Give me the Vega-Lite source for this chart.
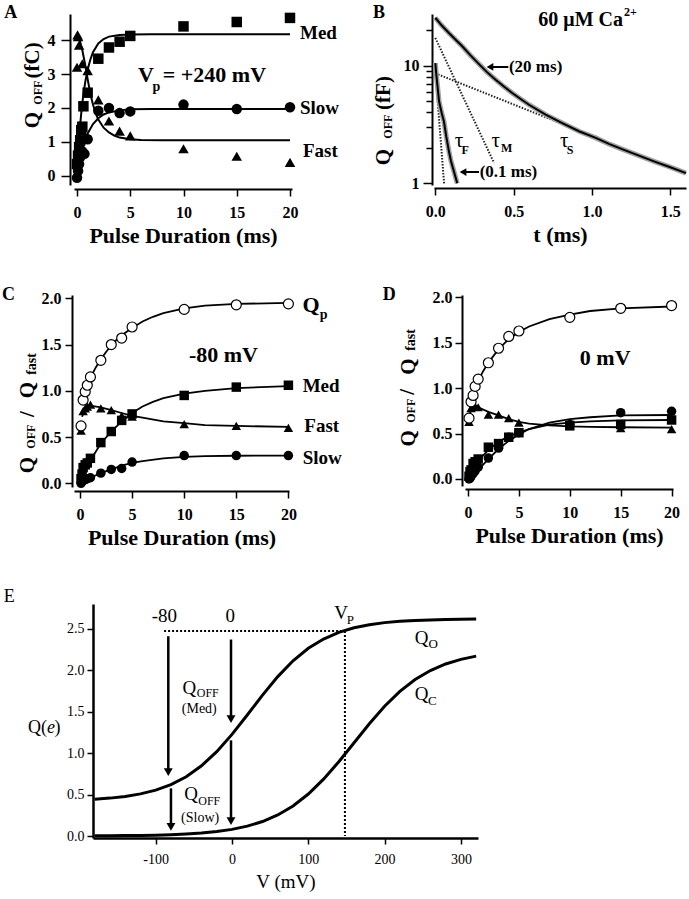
{
"$schema":"https://vega.github.io/schema/vega-lite/v6.json",
"padding":0,
"config":{"view":{"stroke":null},"font":"Liberation Serif",
 "axis":{"grid":false,"domainColor":"black","tickColor":"black","labelColor":"black","titleColor":"black","labelFont":"Liberation Serif","titleFont":"Liberation Serif","labelFontWeight":"bold","titleFontWeight":"bold","labelFontSize":16,"titleFontSize":22,"domainWidth":2,"tickWidth":1.5,"labelFlush":false,"labelOverlap":false,"labelBound":false},
 "text":{"font":"Liberation Serif","color":"black"}},
"spacing":0,"bounds":"full",
"vconcat":[
 {"spacing":142,"bounds":"flush","hconcat":[
  {"width":218,"height":171,
   "encoding":{
    "x":{"field":"x","type":"quantitative","scale":{"domain":[-0.282,20.188],"nice":false,"zero":false},"axis":{"values":[0,5,10,15,20],"title":"Pulse Duration (ms)","offset":4,"tickSize":7,"labelPadding":8,"titlePadding":5}},
    "y":{"field":"y","type":"quantitative","scale":{"domain":[-0.265,4.765],"nice":false,"zero":false},"axis":{"values":[0,1,2,3,4],"title":null,"offset":4,"tickSize":9,"labelPadding":6}}},
   "layer":[
    {"data":{"values":[{"x":-7.136,"y":5.176,"y2":-2.353}]},"mark":{"type":"rule","opacity":0,"strokeWidth":0},"encoding":{"y2":{"field":"y2"}}},
    {"data":{"values":[
     {"s":"Med","x":0,"y":0.22},{"s":"Med","x":0.1,"y":0.71},{"s":"Med","x":0.2,"y":1.14},{"s":"Med","x":0.3,"y":1.52},{"s":"Med","x":0.4,"y":1.85},{"s":"Med","x":0.5,"y":2.14},{"s":"Med","x":0.6,"y":2.4},{"s":"Med","x":0.8,"y":2.81},{"s":"Med","x":1.0,"y":3.13},{"s":"Med","x":1.25,"y":3.42},{"s":"Med","x":1.5,"y":3.64},{"s":"Med","x":2,"y":3.9},{"s":"Med","x":2.5,"y":4.03},{"s":"Med","x":3,"y":4.1},{"s":"Med","x":4,"y":4.15},{"s":"Med","x":5,"y":4.165},{"s":"Med","x":7,"y":4.17},{"s":"Med","x":20,"y":4.17},
     {"s":"Fast","x":0,"y":4.12},{"s":"Fast","x":0.25,"y":4.0},{"s":"Fast","x":0.5,"y":3.7},{"s":"Fast","x":0.75,"y":3.3},{"s":"Fast","x":1.0,"y":2.85},{"s":"Fast","x":1.25,"y":2.42},{"s":"Fast","x":1.5,"y":2.1},{"s":"Fast","x":1.75,"y":1.85},{"s":"Fast","x":2.0,"y":1.66},{"s":"Fast","x":2.5,"y":1.42},{"s":"Fast","x":3,"y":1.28},{"s":"Fast","x":3.5,"y":1.19},{"s":"Fast","x":4,"y":1.13},{"s":"Fast","x":5,"y":1.08},{"s":"Fast","x":6,"y":1.06},{"s":"Fast","x":8,"y":1.05},{"s":"Fast","x":20,"y":1.05},
     {"s":"Slow","x":0,"y":0},{"s":"Slow","x":0.25,"y":0.44},{"s":"Slow","x":0.5,"y":0.78},{"s":"Slow","x":0.75,"y":1.04},{"s":"Slow","x":1,"y":1.25},{"s":"Slow","x":1.5,"y":1.53},{"s":"Slow","x":2,"y":1.7},{"s":"Slow","x":2.5,"y":1.81},{"s":"Slow","x":3,"y":1.87},{"s":"Slow","x":4,"y":1.93},{"s":"Slow","x":5,"y":1.96},{"s":"Slow","x":7,"y":1.97},{"s":"Slow","x":20,"y":1.97}]},
     "mark":{"type":"line","strokeWidth":2,"color":"black"},"encoding":{"detail":{"field":"s"}}},
    {"data":{"values":[
     {"s":"Med","x":0,"y":0.35},{"s":"Med","x":0.1,"y":0.6},{"s":"Med","x":0.2,"y":0.85},{"s":"Med","x":0.3,"y":1.05},{"s":"Med","x":0.4,"y":1.35},{"s":"Med","x":0.5,"y":1.45},{"s":"Med","x":0.6,"y":2.05},{"s":"Med","x":1,"y":2.45},{"s":"Med","x":2,"y":3.45},{"s":"Med","x":3,"y":3.78},{"s":"Med","x":4,"y":3.95},{"s":"Med","x":5,"y":4.12},{"s":"Med","x":10,"y":4.4},{"s":"Med","x":15,"y":4.53},{"s":"Med","x":20,"y":4.65},
     {"s":"Fast","x":0,"y":3.2},{"s":"Fast","x":0.05,"y":4.15},{"s":"Fast","x":0.1,"y":4.1},{"s":"Fast","x":0.2,"y":3.85},{"s":"Fast","x":0.5,"y":3.3},{"s":"Fast","x":1,"y":3.1},{"s":"Fast","x":2,"y":2.24},{"s":"Fast","x":3,"y":1.62},{"s":"Fast","x":4,"y":1.32},{"s":"Fast","x":5,"y":1.18},{"s":"Fast","x":10,"y":0.8},{"s":"Fast","x":15,"y":0.58},{"s":"Fast","x":20,"y":0.4},
     {"s":"Slow","x":0,"y":-0.05},{"s":"Slow","x":0.1,"y":0.15},{"s":"Slow","x":0.2,"y":0.35},{"s":"Slow","x":0.3,"y":0.55},{"s":"Slow","x":0.5,"y":0.72},{"s":"Slow","x":0.7,"y":0.65},{"s":"Slow","x":1,"y":1.08},{"s":"Slow","x":2,"y":1.92},{"s":"Slow","x":3,"y":2.0},{"s":"Slow","x":4,"y":1.85},{"s":"Slow","x":5,"y":1.9},{"s":"Slow","x":10,"y":2.1},{"s":"Slow","x":15,"y":1.97},{"s":"Slow","x":20,"y":2.02}]},
     "mark":{"type":"point","filled":true,"opacity":1,"size":110,"color":"black"},
     "encoding":{"shape":{"field":"s","scale":{"domain":["Med","Slow","Fast"],"range":["square","circle","triangle-up"]},"legend":null}}},
    {"data":{"values":[{"x":20.94,"y":4.206,"t":"Med"},{"x":20.94,"y":2.0,"t":"Slow"},{"x":21.22,"y":0.735,"t":"Fast"}]},
     "mark":{"type":"text","fontSize":19,"fontWeight":"bold","align":"left","baseline":"middle"},"encoding":{"text":{"field":"t"}}},
    {"data":{"values":[{"x":6.48,"y":2.97,"t":"V"}]},"mark":{"type":"text","fontSize":22,"fontWeight":"bold","align":"center","baseline":"middle"},"encoding":{"text":{"field":"t"}}},
    {"data":{"values":[{"x":7.45,"y":2.63,"t":"p"}]},"mark":{"type":"text","fontSize":14,"fontWeight":"bold","align":"center","baseline":"middle"},"encoding":{"text":{"field":"t"}}},
    {"data":{"values":[{"x":8.05,"y":2.97,"t":"= +240 mV"}]},"mark":{"type":"text","fontSize":22,"fontWeight":"bold","align":"left","baseline":"middle"},"encoding":{"text":{"field":"t"}}},
    {"data":{"values":[{"x":-4.16,"y":1.647,"t":"Q"},{"x":-4.16,"y":3.4,"t":"(fC)"}]},"mark":{"type":"text","fontSize":21,"fontWeight":"bold","angle":270,"align":"center","baseline":"middle"},"encoding":{"text":{"field":"t"}}},
    {"data":{"values":[{"x":-3.69,"y":2.45,"t":"OFF"}]},"mark":{"type":"text","fontSize":12,"fontWeight":"bold","angle":270,"align":"center","baseline":"middle"},"encoding":{"text":{"field":"t"}}},
    {"data":{"values":[{"x":-6.23,"y":4.785,"t":"A"}]},"mark":{"type":"text","fontSize":18,"fontWeight":"bold","align":"center","baseline":"middle"},"encoding":{"text":{"field":"t"}}}
   ]},
  {"width":252,"height":171,
   "encoding":{
    "x":{"field":"x","type":"quantitative","scale":{"domain":[-0.0083,1.6],"nice":false,"zero":false},"axis":{"values":[0,0.5,1,1.5],"format":".1f","title":"t (ms)","offset":3,"tickSize":7,"labelPadding":8,"titlePadding":5}},
    "y":{"field":"y","type":"quantitative","scale":{"type":"log","domain":[0.9673,27.44],"nice":false},"axis":{"values":[1,2,3,4,5,6,7,8,9,10,20],"labelExpr":"datum.value == 1 || datum.value == 10 ? datum.value : ''","title":null,"offset":2,"tickSize":{"condition":{"test":"datum.value == 1 || datum.value == 10","value":9},"value":6},"labelPadding":4}}},
   "layer":[
    {"data":{"values":[{"s":"slow","x":0,"y":8.6},{"s":"slow","x":0.8,"y":3.24},{"s":"med","x":0,"y":17.2},{"s":"med","x":0.375,"y":1.49},{"s":"fast","x":0,"y":8.95},{"s":"fast","x":0.056,"y":1.0}]},
     "mark":{"type":"line","strokeWidth":2,"strokeDash":[1.5,1.5],"color":"#222222"},"encoding":{"detail":{"field":"s"}}},
    {"data":{"values":[
     {"s":"c20","x":0,"y":25.5},{"s":"c20","x":0.04,"y":22},{"s":"c20","x":0.087,"y":18.9},{"s":"c20","x":0.13,"y":16.6},{"s":"c20","x":0.172,"y":14.6},{"s":"c20","x":0.225,"y":12.2},{"s":"c20","x":0.279,"y":10.3},{"s":"c20","x":0.33,"y":8.8},{"s":"c20","x":0.385,"y":7.59},{"s":"c20","x":0.44,"y":6.6},{"s":"c20","x":0.491,"y":5.85},{"s":"c20","x":0.545,"y":5.2},{"s":"c20","x":0.598,"y":4.65},{"s":"c20","x":0.704,"y":3.83},{"s":"c20","x":0.81,"y":3.25},{"s":"c20","x":0.917,"y":2.77},{"s":"c20","x":1.024,"y":2.43},{"s":"c20","x":1.108,"y":2.16},{"s":"c20","x":1.2,"y":1.93},{"s":"c20","x":1.3,"y":1.72},{"s":"c20","x":1.4,"y":1.53},{"s":"c20","x":1.5,"y":1.37},{"s":"c20","x":1.6,"y":1.22},
     {"s":"c01","x":0,"y":10.5},{"s":"c01","x":0.006,"y":8.5},{"s":"c01","x":0.013,"y":6.9},{"s":"c01","x":0.024,"y":4.97},{"s":"c01","x":0.04,"y":4.0},{"s":"c01","x":0.055,"y":3.36},{"s":"c01","x":0.07,"y":2.5},{"s":"c01","x":0.087,"y":1.87},{"s":"c01","x":0.1,"y":1.55},{"s":"c01","x":0.119,"y":1.26},{"s":"c01","x":0.14,"y":1.0}]},
     "layer":[
      {"mark":{"type":"line","strokeWidth":5,"color":"#a0a0a0"},"encoding":{"detail":{"field":"s"}}},
      {"mark":{"type":"line","strokeWidth":2,"color":"black"},"encoding":{"detail":{"field":"s"}}}]},
    {"data":{"values":[{"x":0.349,"x2":0.466,"y":9.73},{"x":0.177,"x2":0.279,"y":1.247}]},"mark":{"type":"rule","strokeWidth":2,"color":"black"},"encoding":{"x2":{"field":"x2"}}},
    {"data":{"values":[{"x":0.349,"y":9.73},{"x":0.177,"y":1.247}]},"mark":{"type":"point","shape":"triangle-left","filled":true,"opacity":1,"size":60,"color":"black"}},
    {"data":{"values":[{"x":0.47,"y":9.73,"t":"(20 ms)"},{"x":0.283,"y":1.247,"t":"(0.1 ms)"}]},"mark":{"type":"text","fontSize":17,"fontWeight":"bold","align":"left","baseline":"middle"},"encoding":{"text":{"field":"t"}}},
    {"data":{"values":[{"x":1.198,"y":24.4,"t":"60 μM Ca"}]},"mark":{"type":"text","fontSize":20,"fontWeight":"bold","align":"right","baseline":"middle"},"encoding":{"text":{"field":"t"}}},
    {"data":{"values":[{"x":1.204,"y":28.5,"t":"2+"}]},"mark":{"type":"text","fontSize":12,"fontWeight":"bold","align":"left","baseline":"middle"},"encoding":{"text":{"field":"t"}}},
    {"data":{"values":[{"x":0.151,"y":2.275,"t":"τ"},{"x":0.385,"y":2.275,"t":"τ"},{"x":0.823,"y":2.275,"t":"τ"}]},"mark":{"type":"text","fontSize":21,"align":"center","baseline":"middle"},"encoding":{"text":{"field":"t"}}},
    {"data":{"values":[{"x":0.191,"y":1.93,"t":"F"},{"x":0.456,"y":1.98,"t":"M"},{"x":0.861,"y":1.93,"t":"S"}]},"mark":{"type":"text","fontSize":12,"fontWeight":"bold","align":"center","baseline":"middle"},"encoding":{"text":{"field":"t"}}},
    {"data":{"values":[{"x":-0.327,"y":1.672,"t":"Q"},{"x":-0.327,"y":5.85,"t":"(fF)"}]},"mark":{"type":"text","fontSize":21,"fontWeight":"bold","angle":270,"align":"center","baseline":"middle"},"encoding":{"text":{"field":"t"}}},
    {"data":{"values":[{"x":-0.304,"y":3.03,"t":"OFF"}]},"mark":{"type":"text","fontSize":12,"fontWeight":"bold","angle":270,"align":"center","baseline":"middle"},"encoding":{"text":{"field":"t"}}},
    {"data":{"values":[{"x":-0.359,"y":27.8,"t":"B"}]},"mark":{"type":"text","fontSize":18,"fontWeight":"bold","align":"center","baseline":"middle"},"encoding":{"text":{"field":"t"}}}
   ]}
 ]},
 {"spacing":176,"bounds":"flush","hconcat":[
  {"width":215,"height":192,
   "encoding":{
    "x":{"field":"x","type":"quantitative","scale":{"domain":[-0.576,20.058],"nice":false,"zero":false},"axis":{"values":[0,5,10,15,20],"title":"Pulse Duration (ms)","offset":4,"tickSize":7,"labelPadding":8,"titlePadding":5}},
    "y":{"field":"y","type":"quantitative","scale":{"domain":[-0.04,2.0357],"nice":false,"zero":false},"axis":{"values":[0,0.5,1,1.5,2],"format":".1f","title":null,"offset":2,"tickSize":7,"labelPadding":4}}},
   "layer":[
    {"data":{"values":[{"x":-7.582,"y":2.457,"y2":-0.851}]},"mark":{"type":"rule","opacity":0,"strokeWidth":0},"encoding":{"y2":{"field":"y2"}}},
    {"data":{"values":[
     {"s":"Qp","x":0.2,"y":0.87},{"s":"Qp","x":0.5,"y":0.99},{"s":"Qp","x":0.75,"y":1.07},{"s":"Qp","x":1,"y":1.14},{"s":"Qp","x":1.5,"y":1.25},{"s":"Qp","x":2,"y":1.34},{"s":"Qp","x":2.5,"y":1.42},{"s":"Qp","x":3,"y":1.49},{"s":"Qp","x":3.5,"y":1.55},{"s":"Qp","x":4,"y":1.6},{"s":"Qp","x":5,"y":1.68},{"s":"Qp","x":6,"y":1.75},{"s":"Qp","x":7,"y":1.8},{"s":"Qp","x":8,"y":1.84},{"s":"Qp","x":10,"y":1.89},{"s":"Qp","x":12,"y":1.92},{"s":"Qp","x":15,"y":1.94},{"s":"Qp","x":20,"y":1.95},
     {"s":"Med","x":0,"y":0.04},{"s":"Med","x":0.5,"y":0.15},{"s":"Med","x":1,"y":0.25},{"s":"Med","x":2,"y":0.43},{"s":"Med","x":3,"y":0.56},{"s":"Med","x":4,"y":0.67},{"s":"Med","x":5,"y":0.76},{"s":"Med","x":6,"y":0.83},{"s":"Med","x":7,"y":0.88},{"s":"Med","x":8,"y":0.92},{"s":"Med","x":10,"y":0.97},{"s":"Med","x":12,"y":1.0},{"s":"Med","x":15,"y":1.03},{"s":"Med","x":20,"y":1.05},
     {"s":"Fast","x":0.2,"y":0.72},{"s":"Fast","x":0.5,"y":0.81},{"s":"Fast","x":1,"y":0.84},{"s":"Fast","x":2,"y":0.82},{"s":"Fast","x":3,"y":0.79},{"s":"Fast","x":4,"y":0.76},{"s":"Fast","x":5,"y":0.73},{"s":"Fast","x":6,"y":0.71},{"s":"Fast","x":8,"y":0.67},{"s":"Fast","x":10,"y":0.65},{"s":"Fast","x":12,"y":0.63},{"s":"Fast","x":15,"y":0.62},{"s":"Fast","x":20,"y":0.61},
     {"s":"Slow","x":0,"y":0.0},{"s":"Slow","x":0.5,"y":0.03},{"s":"Slow","x":1,"y":0.06},{"s":"Slow","x":2,"y":0.11},{"s":"Slow","x":3,"y":0.15},{"s":"Slow","x":4,"y":0.19},{"s":"Slow","x":5,"y":0.22},{"s":"Slow","x":6,"y":0.24},{"s":"Slow","x":8,"y":0.27},{"s":"Slow","x":10,"y":0.285},{"s":"Slow","x":12,"y":0.293},{"s":"Slow","x":15,"y":0.298},{"s":"Slow","x":20,"y":0.3}]},
     "mark":{"type":"line","strokeWidth":1.8,"color":"black"},"encoding":{"detail":{"field":"s"}}},
    {"data":{"values":[
     {"s":"Med","x":0.1,"y":0.05},{"s":"Med","x":0.2,"y":0.1},{"s":"Med","x":0.3,"y":0.17},{"s":"Med","x":0.5,"y":0.2},{"s":"Med","x":0.7,"y":0.22},{"s":"Med","x":1,"y":0.27},{"s":"Med","x":2,"y":0.44},{"s":"Med","x":3,"y":0.56},{"s":"Med","x":4,"y":0.68},{"s":"Med","x":5,"y":0.75},{"s":"Med","x":10,"y":0.95},{"s":"Med","x":15,"y":1.04},{"s":"Med","x":20,"y":1.06},
     {"s":"Fast","x":0.1,"y":0.57},{"s":"Fast","x":0.3,"y":0.78},{"s":"Fast","x":0.5,"y":0.81},{"s":"Fast","x":0.7,"y":0.83},{"s":"Fast","x":1,"y":0.85},{"s":"Fast","x":2,"y":0.81},{"s":"Fast","x":3,"y":0.79},{"s":"Fast","x":4,"y":0.73},{"s":"Fast","x":5,"y":0.72},{"s":"Fast","x":10,"y":0.64},{"s":"Fast","x":15,"y":0.62},{"s":"Fast","x":20,"y":0.6},
     {"s":"Slow","x":0.1,"y":0.0},{"s":"Slow","x":0.2,"y":0.02},{"s":"Slow","x":0.3,"y":0.03},{"s":"Slow","x":0.5,"y":0.04},{"s":"Slow","x":0.7,"y":0.05},{"s":"Slow","x":1,"y":0.06},{"s":"Slow","x":2,"y":0.11},{"s":"Slow","x":3,"y":0.15},{"s":"Slow","x":4,"y":0.16},{"s":"Slow","x":5,"y":0.23},{"s":"Slow","x":10,"y":0.3},{"s":"Slow","x":15,"y":0.3},{"s":"Slow","x":20,"y":0.3}]},
     "mark":{"type":"point","filled":true,"opacity":1,"size":90,"color":"black"},
     "encoding":{"shape":{"field":"s","scale":{"domain":["Med","Slow","Fast"],"range":["square","circle","triangle-up"]},"legend":null}}},
    {"data":{"values":[{"x":0.1,"y":0.62},{"x":0.3,"y":0.9},{"x":0.5,"y":0.99},{"x":0.7,"y":1.06},{"x":1,"y":1.15},{"x":2,"y":1.33},{"x":3,"y":1.5},{"x":4,"y":1.57},{"x":5,"y":1.69},{"x":10,"y":1.88},{"x":15,"y":1.93},{"x":20,"y":1.94}]},
     "mark":{"type":"point","shape":"circle","filled":true,"opacity":1,"size":100,"fill":"white","stroke":"black","strokeWidth":1.2}},
    {"data":{"values":[{"x":21.37,"y":1.052,"t":"Med"},{"x":21.53,"y":0.622,"t":"Fast"},{"x":21.37,"y":0.27,"t":"Slow"}]},"mark":{"type":"text","fontSize":19,"fontWeight":"bold","align":"left","baseline":"middle"},"encoding":{"text":{"field":"t"}}},
    {"data":{"values":[{"x":13.77,"y":1.382,"t":"-80 mV"},{"x":22.17,"y":1.928,"t":"Q"}]},"mark":{"type":"text","fontSize":22,"fontWeight":"bold","align":"center","baseline":"middle"},"encoding":{"text":{"field":"t"}}},
    {"data":{"values":[{"x":23.39,"y":1.82,"t":"p"}]},"mark":{"type":"text","fontSize":14,"fontWeight":"bold","align":"center","baseline":"middle"},"encoding":{"text":{"field":"t"}}},
    {"data":{"values":[{"x":-5.02,"y":0.198,"t":"Q"},{"x":-5.02,"y":0.749,"t":"/"},{"x":-5.02,"y":1.009,"t":"Q"}]},"mark":{"type":"text","fontSize":21,"fontWeight":"bold","angle":270,"align":"center","baseline":"middle"},"encoding":{"text":{"field":"t"}}},
    {"data":{"values":[{"x":-4.7,"y":0.504,"t":"OFF"}]},"mark":{"type":"text","fontSize":12,"fontWeight":"bold","angle":270,"align":"center","baseline":"middle"},"encoding":{"text":{"field":"t"}}},
    {"data":{"values":[{"x":-4.63,"y":1.29,"t":"fast"}]},"mark":{"type":"text","fontSize":14,"fontWeight":"bold","angle":270,"align":"center","baseline":"middle"},"encoding":{"text":{"field":"t"}}},
    {"data":{"values":[{"x":-6.86,"y":2.036,"t":"C"}]},"mark":{"type":"text","fontSize":18,"fontWeight":"bold","align":"center","baseline":"middle"},"encoding":{"text":{"field":"t"}}}
   ]},
  {"width":208,"height":191,
   "encoding":{
    "x":{"field":"x","type":"quantitative","scale":{"domain":[-0.295,20.138],"nice":false,"zero":false},"axis":{"values":[0,5,10,15,20],"title":"Pulse Duration (ms)","offset":3,"tickSize":7,"labelPadding":8,"titlePadding":5}},
    "y":{"field":"y","type":"quantitative","scale":{"domain":[-0.0771,2.0264],"nice":false,"zero":false},"axis":{"values":[0,0.5,1,1.5,2],"format":".1f","title":null,"offset":3,"tickSize":7,"labelPadding":3}}},
   "layer":[
    {"data":{"values":[
     {"s":"Qp","x":0.2,"y":0.8},{"s":"Qp","x":0.5,"y":0.93},{"s":"Qp","x":0.75,"y":1.0},{"s":"Qp","x":1,"y":1.08},{"s":"Qp","x":1.5,"y":1.19},{"s":"Qp","x":2,"y":1.28},{"s":"Qp","x":3,"y":1.43},{"s":"Qp","x":4,"y":1.54},{"s":"Qp","x":5,"y":1.62},{"s":"Qp","x":6,"y":1.68},{"s":"Qp","x":8,"y":1.76},{"s":"Qp","x":10,"y":1.81},{"s":"Qp","x":12,"y":1.85},{"s":"Qp","x":15,"y":1.88},{"s":"Qp","x":20,"y":1.9},
     {"s":"Fast","x":0.1,"y":0.66},{"s":"Fast","x":0.3,"y":0.77},{"s":"Fast","x":0.6,"y":0.8},{"s":"Fast","x":1,"y":0.79},{"s":"Fast","x":2,"y":0.74},{"s":"Fast","x":3,"y":0.7},{"s":"Fast","x":4,"y":0.66},{"s":"Fast","x":5,"y":0.63},{"s":"Fast","x":6,"y":0.61},{"s":"Fast","x":8,"y":0.59},{"s":"Fast","x":10,"y":0.58},{"s":"Fast","x":12,"y":0.575},{"s":"Fast","x":15,"y":0.57},{"s":"Fast","x":20,"y":0.565},
     {"s":"Med","x":0,"y":0.03},{"s":"Med","x":0.5,"y":0.12},{"s":"Med","x":1,"y":0.2},{"s":"Med","x":2,"y":0.32},{"s":"Med","x":3,"y":0.41},{"s":"Med","x":4,"y":0.47},{"s":"Med","x":5,"y":0.51},{"s":"Med","x":6,"y":0.55},{"s":"Med","x":8,"y":0.6},{"s":"Med","x":10,"y":0.62},{"s":"Med","x":12,"y":0.635},{"s":"Med","x":15,"y":0.645},{"s":"Med","x":20,"y":0.65},
     {"s":"Slow","x":0,"y":0.0},{"s":"Slow","x":0.5,"y":0.04},{"s":"Slow","x":1,"y":0.1},{"s":"Slow","x":2,"y":0.22},{"s":"Slow","x":3,"y":0.33},{"s":"Slow","x":4,"y":0.42},{"s":"Slow","x":5,"y":0.49},{"s":"Slow","x":6,"y":0.55},{"s":"Slow","x":8,"y":0.62},{"s":"Slow","x":10,"y":0.66},{"s":"Slow","x":12,"y":0.68},{"s":"Slow","x":15,"y":0.7},{"s":"Slow","x":20,"y":0.705}]},
     "mark":{"type":"line","strokeWidth":1.8,"color":"black"},"encoding":{"detail":{"field":"s"}}},
    {"data":{"values":[
     {"s":"Fast","x":0.1,"y":0.63},{"s":"Fast","x":0.3,"y":0.78},{"s":"Fast","x":0.5,"y":0.8},{"s":"Fast","x":0.7,"y":0.8},{"s":"Fast","x":1,"y":0.79},{"s":"Fast","x":2,"y":0.71},{"s":"Fast","x":3,"y":0.71},{"s":"Fast","x":4,"y":0.67},{"s":"Fast","x":5,"y":0.62},{"s":"Fast","x":10,"y":0.58},{"s":"Fast","x":15,"y":0.56},{"s":"Fast","x":20,"y":0.55},
     {"s":"Med","x":0.1,"y":0.03},{"s":"Med","x":0.2,"y":0.08},{"s":"Med","x":0.3,"y":0.1},{"s":"Med","x":0.5,"y":0.17},{"s":"Med","x":0.7,"y":0.19},{"s":"Med","x":1,"y":0.22},{"s":"Med","x":2,"y":0.35},{"s":"Med","x":3,"y":0.39},{"s":"Med","x":4,"y":0.46},{"s":"Med","x":5,"y":0.51},{"s":"Med","x":10,"y":0.59},{"s":"Med","x":15,"y":0.6},{"s":"Med","x":20,"y":0.65},
     {"s":"Slow","x":0.1,"y":0.0},{"s":"Slow","x":0.2,"y":0.01},{"s":"Slow","x":0.3,"y":0.03},{"s":"Slow","x":0.5,"y":0.06},{"s":"Slow","x":0.7,"y":0.09},{"s":"Slow","x":1,"y":0.13},{"s":"Slow","x":2,"y":0.23},{"s":"Slow","x":3,"y":0.34},{"s":"Slow","x":4,"y":0.46},{"s":"Slow","x":5,"y":0.51},{"s":"Slow","x":10,"y":0.6},{"s":"Slow","x":15,"y":0.73},{"s":"Slow","x":20,"y":0.745}]},
     "mark":{"type":"point","filled":true,"opacity":1,"size":90,"color":"black"},
     "encoding":{"shape":{"field":"s","scale":{"domain":["Med","Slow","Fast"],"range":["square","circle","triangle-up"]},"legend":null}}},
    {"data":{"values":[{"x":0.1,"y":0.67},{"x":0.3,"y":0.85},{"x":0.5,"y":0.92},{"x":0.7,"y":1.02},{"x":1,"y":1.1},{"x":2,"y":1.28},{"x":3,"y":1.44},{"x":4,"y":1.57},{"x":5,"y":1.63},{"x":10,"y":1.78},{"x":15,"y":1.88},{"x":20,"y":1.91}]},
     "mark":{"type":"point","shape":"circle","filled":true,"opacity":1,"size":100,"fill":"white","stroke":"black","strokeWidth":1.2}},
    {"data":{"values":[{"x":13.48,"y":1.338,"t":"0 mV"}]},"mark":{"type":"text","fontSize":22,"fontWeight":"bold","align":"center","baseline":"middle"},"encoding":{"text":{"field":"t"}}},
    {"data":{"values":[{"x":-5.84,"y":0.448,"t":"Q"},{"x":-5.89,"y":0.961,"t":"/"},{"x":-5.84,"y":1.237,"t":"Q"}]},"mark":{"type":"text","fontSize":21,"fontWeight":"bold","angle":270,"align":"center","baseline":"middle"},"encoding":{"text":{"field":"t"}}},
    {"data":{"values":[{"x":-5.6,"y":0.752,"t":"OFF"}]},"mark":{"type":"text","fontSize":12,"fontWeight":"bold","angle":270,"align":"center","baseline":"middle"},"encoding":{"text":{"field":"t"}}},
    {"data":{"values":[{"x":-5.6,"y":1.531,"t":"fast"}]},"mark":{"type":"text","fontSize":14,"fontWeight":"bold","angle":270,"align":"center","baseline":"middle"},"encoding":{"text":{"field":"t"}}},
    {"data":{"values":[{"x":-7.73,"y":2.026,"t":"D"}]},"mark":{"type":"text","fontSize":18,"fontWeight":"bold","align":"center","baseline":"middle"},"encoding":{"text":{"field":"t"}}}
   ]}
 ]},
 {"spacing":18,"bounds":"flush","hconcat":[
  {"width":1,"height":1,"data":{"values":[{"a":0}]},"mark":{"type":"point","opacity":0,"size":1},"encoding":{}},
  {"width":385,"height":234,
   "encoding":{
    "x":{"field":"x","type":"quantitative","scale":{"domain":[-182.18,322.41],"nice":false,"zero":false},"axis":{"values":[-100,0,100,200,300],"labelExpr":"datum.value + ''","title":"V (mV)","tickSize":6,"labelFontWeight":"normal","titleFontWeight":"normal","labelFontSize":14,"titleFontSize":19,"domainWidth":2.5,"labelPadding":8,"titlePadding":6}},
    "y":{"field":"y","type":"quantitative","scale":{"domain":[-0.0241,2.7986],"nice":false,"zero":false},"axis":{"values":[0,0.5,1,1.5,2,2.5],"format":".1f","title":null,"tickSize":6,"labelFontWeight":"normal","labelFontSize":14,"labelPadding":3,"domainWidth":2.5}}},
   "layer":[
    {"data":{"values":[{"x":-302.75,"y":3.293,"y2":-0.772}]},"mark":{"type":"rule","opacity":0,"strokeWidth":0},"encoding":{"y2":{"field":"y2"}}},
    {"data":{"values":[{"x":-89,"x2":148,"y":2.473}]},"mark":{"type":"rule","strokeWidth":2,"strokeDash":[2,2],"color":"black"},"encoding":{"x2":{"field":"x2"}}},
    {"data":{"values":[{"x":148,"y":2.473,"y2":0}]},"mark":{"type":"rule","strokeWidth":2,"strokeDash":[2,2],"color":"black"},"encoding":{"y2":{"field":"y2"}}},
    {"data":{"values":[
     {"s":"Qo","x":-180,"y":0.444},{"s":"Qo","x":-160,"y":0.457},{"s":"Qo","x":-140,"y":0.477},{"s":"Qo","x":-120,"y":0.508},{"s":"Qo","x":-100,"y":0.553},{"s":"Qo","x":-80,"y":0.62},{"s":"Qo","x":-60,"y":0.715},{"s":"Qo","x":-40,"y":0.847},{"s":"Qo","x":-20,"y":1.017},{"s":"Qo","x":0,"y":1.226},{"s":"Qo","x":20,"y":1.46},{"s":"Qo","x":40,"y":1.699},{"s":"Qo","x":60,"y":1.923},{"s":"Qo","x":80,"y":2.114},{"s":"Qo","x":100,"y":2.264},{"s":"Qo","x":120,"y":2.376},{"s":"Qo","x":140,"y":2.457},{"s":"Qo","x":160,"y":2.512},{"s":"Qo","x":180,"y":2.549},{"s":"Qo","x":200,"y":2.574},{"s":"Qo","x":220,"y":2.59},{"s":"Qo","x":240,"y":2.6},{"s":"Qo","x":260,"y":2.607},{"s":"Qo","x":280,"y":2.612},{"s":"Qo","x":300,"y":2.615},{"s":"Qo","x":320,"y":2.617},
     {"s":"Qc","x":-180,"y":0.002},{"s":"Qc","x":-160,"y":0.0031},{"s":"Qc","x":-140,"y":0.0046},{"s":"Qc","x":-120,"y":0.007},{"s":"Qc","x":-100,"y":0.0105},{"s":"Qc","x":-80,"y":0.0158},{"s":"Qc","x":-60,"y":0.0239},{"s":"Qc","x":-40,"y":0.0358},{"s":"Qc","x":-20,"y":0.0537},{"s":"Qc","x":0,"y":0.0801},{"s":"Qc","x":20,"y":0.1188},{"s":"Qc","x":40,"y":0.1748},{"s":"Qc","x":60,"y":0.2539},{"s":"Qc","x":80,"y":0.3629},{"s":"Qc","x":100,"y":0.5061},{"s":"Qc","x":120,"y":0.6856},{"s":"Qc","x":140,"y":0.8964},{"s":"Qc","x":160,"y":1.125},{"s":"Qc","x":180,"y":1.354},{"s":"Qc","x":200,"y":1.565},{"s":"Qc","x":220,"y":1.744},{"s":"Qc","x":240,"y":1.888},{"s":"Qc","x":260,"y":1.996},{"s":"Qc","x":280,"y":2.075},{"s":"Qc","x":300,"y":2.131},{"s":"Qc","x":320,"y":2.17}]},
     "mark":{"type":"line","strokeWidth":3,"color":"black"},"encoding":{"detail":{"field":"s"}}},
    {"data":{"values":[{"x":-83.5,"y":2.41,"y2":0.77},{"x":-1.3,"y":2.37,"y2":1.41},{"x":-80,"y":0.575,"y2":0.11},{"x":-1.3,"y":1.154,"y2":0.18}]},"mark":{"type":"rule","strokeWidth":2.5,"color":"black"},"encoding":{"y2":{"field":"y2"}}},
    {"data":{"values":[{"x":-83.5,"y":0.77},{"x":-1.3,"y":1.41},{"x":-80,"y":0.11},{"x":-1.3,"y":0.18}]},"mark":{"type":"point","shape":"triangle-down","filled":true,"opacity":1,"size":80,"color":"black"}},
    {"data":{"values":[{"x":-88.7,"y":2.654,"t":"-80"},{"x":-2.2,"y":2.654,"t":"0"},{"x":142.9,"y":2.694,"t":"V"},{"x":-56,"y":1.789,"t":"Q"},{"x":-53.7,"y":0.503,"t":"Q"},{"x":248.6,"y":2.392,"t":"Q"},{"x":248.6,"y":1.709,"t":"Q"}]},"mark":{"type":"text","fontSize":19,"align":"center","baseline":"middle"},"encoding":{"text":{"field":"t"}}},
    {"data":{"values":[{"x":155,"y":2.6,"t":"P"},{"x":263.8,"y":2.32,"t":"O"},{"x":262.4,"y":1.628,"t":"C"}]},"mark":{"type":"text","fontSize":13,"align":"center","baseline":"middle"},"encoding":{"text":{"field":"t"}}},
    {"data":{"values":[{"x":-31.8,"y":1.729,"t":"OFF"},{"x":-29.8,"y":0.422,"t":"OFF"}]},"mark":{"type":"text","fontSize":12,"align":"center","baseline":"middle"},"encoding":{"text":{"field":"t"}}},
    {"data":{"values":[{"x":-42.9,"y":1.528,"t":"(Med)"},{"x":-41.7,"y":0.221,"t":"(Slow)"}]},"mark":{"type":"text","fontSize":14,"align":"center","baseline":"middle"},"encoding":{"text":{"field":"t"}}},
    {"data":{"values":[{"x":-242.5,"y":1.306,"t":"Q("}]},"mark":{"type":"text","fontSize":18,"align":"right","baseline":"middle"},"encoding":{"text":{"field":"t"}}},
    {"data":{"values":[{"x":-242.5,"y":1.306,"t":"e"}]},"mark":{"type":"text","fontSize":18,"fontStyle":"italic","align":"left","baseline":"middle"},"encoding":{"text":{"field":"t"}}},
    {"data":{"values":[{"x":-232.5,"y":1.306,"t":")"}]},"mark":{"type":"text","fontSize":18,"align":"left","baseline":"middle"},"encoding":{"text":{"field":"t"}}},
    {"data":{"values":[{"x":-291.9,"y":2.883,"t":"E"}]},"mark":{"type":"text","fontSize":18,"align":"center","baseline":"middle"},"encoding":{"text":{"field":"t"}}}
   ]}
 ]}
]
}
